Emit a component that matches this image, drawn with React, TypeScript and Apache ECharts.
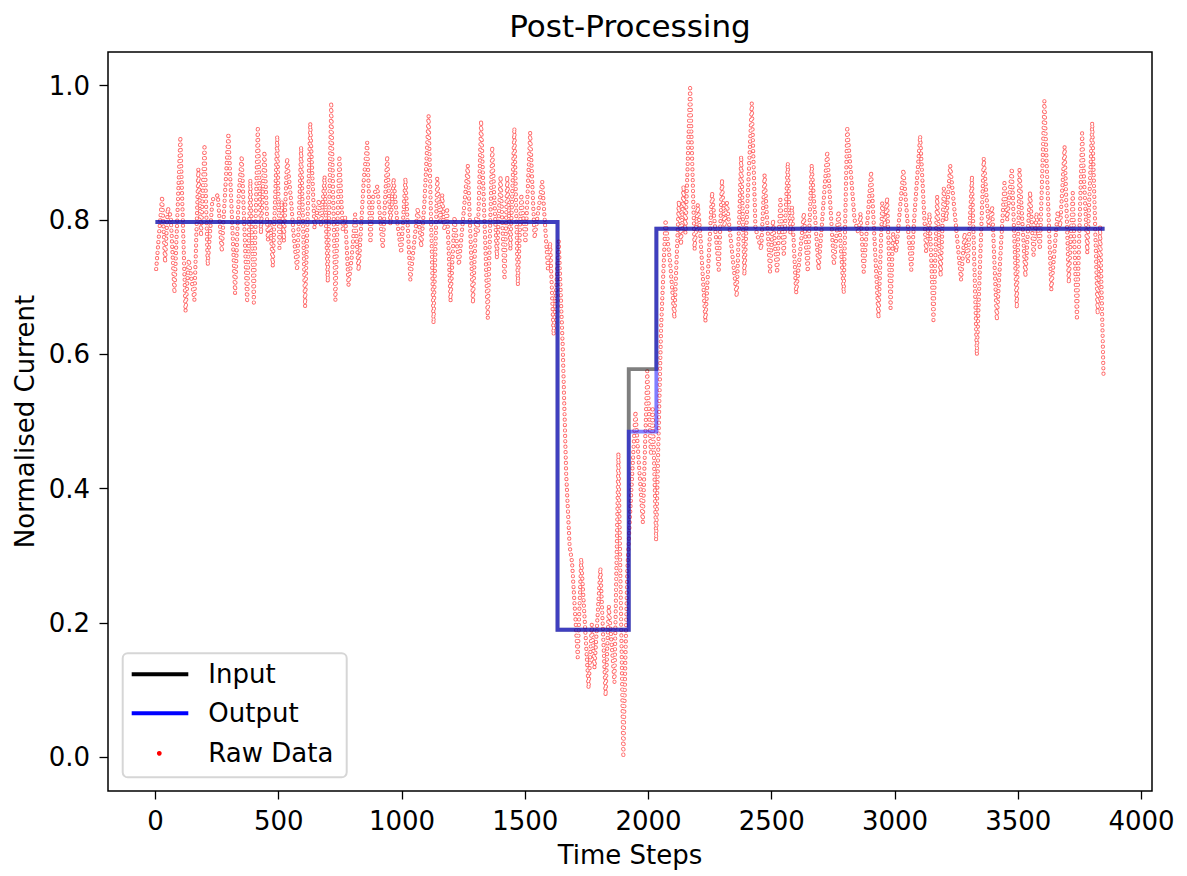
import React, { useEffect, useRef } from "react";
import * as echarts from "echarts";

const chartTitle = "Post-Processing";
const xAxisName = "Time Steps";
const yAxisName = "Normalised Current";
const legendNames = ["Input", "Output", "Raw Data"];

const xTicks = [0, 500, 1000, 1500, 2000, 2500, 3000, 3500, 4000];
const yTicks = [0, 0.2, 0.4, 0.6, 0.8, 1.0];

// step breakpoints (time steps) and levels
const stepT = [0, 1631, 1920, 2032, 3850];
const inputLevels = [0.797, 0.19, 0.578, 0.787];
const outputLevels = [0.797, 0.19, 0.485, 0.787];

// raw data turning points
const rawT = [
  3, 27, 39, 50, 62, 77, 101, 122, 135, 158, 174, 185, 199, 212, 231, 253, 269, 296, 323, 338,
  350, 372, 385, 399, 415, 428, 442, 456, 465, 476, 494, 503, 512, 521, 534, 550, 560, 575, 591, 607,
  628, 645, 663, 672, 686, 699, 713, 730, 746, 760, 770, 783, 795, 810, 824, 845, 859, 872, 882, 900,
  922, 940, 953, 966, 980, 997, 1014, 1034, 1064, 1078, 1091, 1108, 1128, 1143, 1155, 1163, 1172, 1183, 1197, 1213,
  1231, 1267, 1288, 1301, 1308, 1321, 1348, 1366, 1385, 1400, 1416, 1427, 1440, 1456, 1470, 1484, 1501, 1520, 1538, 1569,
  1592, 1601, 1615, 1636, 1652, 1666, 1680, 1690, 1713, 1727, 1757, 1770, 1781, 1805, 1826, 1839, 1862, 1878, 1898, 1914,
  1947, 1977, 1995, 2010, 2017, 2031, 2051, 2069, 2088, 2105, 2123, 2132, 2142, 2150, 2169, 2187, 2200, 2210, 2231, 2258,
  2285, 2298, 2308, 2318, 2358, 2376, 2389, 2419, 2434, 2457, 2471, 2493, 2505, 2522, 2535, 2549, 2565, 2575, 2582, 2599,
  2630, 2646, 2662, 2690, 2725, 2752, 2771, 2792, 2806, 2836, 2852, 2860, 2873, 2903, 2933, 2948, 2958, 2968, 2982, 2992,
  3005, 3034, 3066, 3079, 3102, 3126, 3140, 3156, 3171, 3185, 3198, 3208, 3224, 3268, 3282, 3296, 3312, 3332, 3360, 3380,
  3394, 3413, 3444, 3455, 3474, 3494, 3505, 3529, 3548, 3562, 3574, 3588, 3606, 3634, 3660, 3670, 3688, 3705, 3721, 3738,
  3759, 3780, 3800, 3822, 3832, 3846,
];
const rawV = [
  0.727, 0.835, 0.737, 0.818, 0.805, 0.691, 0.924, 0.664, 0.741, 0.681, 0.876, 0.776, 0.912, 0.733, 0.83, 0.837, 0.753, 0.929, 0.691, 0.839,
  0.895, 0.677, 0.86, 0.677, 0.939, 0.78, 0.902, 0.77, 0.8, 0.731, 0.925, 0.758, 0.828, 0.768, 0.892, 0.83, 0.78, 0.725, 0.909, 0.671,
  0.944, 0.788, 0.83, 0.79, 0.865, 0.708, 0.975, 0.681, 0.895, 0.783, 0.805, 0.703, 0.74, 0.808, 0.725, 0.86, 0.915, 0.766, 0.833, 0.85,
  0.758, 0.895, 0.793, 0.861, 0.8, 0.751, 0.862, 0.711, 0.818, 0.76, 0.825, 0.955, 0.646, 0.862, 0.795, 0.838, 0.785, 0.818, 0.679, 0.805,
  0.733, 0.881, 0.676, 0.805, 0.78, 0.948, 0.654, 0.909, 0.743, 0.865, 0.711, 0.865, 0.756, 0.937, 0.703, 0.838, 0.766, 0.93, 0.773, 0.857,
  0.728, 0.766, 0.629, 0.768, 0.613, 0.423, 0.315, 0.29, 0.149, 0.296, 0.103, 0.198, 0.133, 0.282, 0.092, 0.225, 0.112, 0.453, 0.0, 0.279,
  0.515, 0.35, 0.575, 0.45, 0.522, 0.323, 0.638, 0.8, 0.736, 0.654, 0.828, 0.763, 0.851, 0.78, 1.0, 0.756, 0.823, 0.78, 0.649, 0.841,
  0.726, 0.86, 0.79, 0.826, 0.686, 0.895, 0.718, 0.974, 0.788, 0.756, 0.867, 0.723, 0.8, 0.721, 0.83, 0.746, 0.885, 0.78, 0.82, 0.691,
  0.81, 0.723, 0.882, 0.726, 0.902, 0.733, 0.813, 0.691, 0.939, 0.8, 0.78, 0.81, 0.723, 0.872, 0.654, 0.825, 0.79, 0.833, 0.669, 0.78,
  0.753, 0.875, 0.726, 0.808, 0.925, 0.753, 0.81, 0.651, 0.835, 0.716, 0.847, 0.8, 0.881, 0.711, 0.78, 0.738, 0.865, 0.599, 0.892, 0.79,
  0.82, 0.651, 0.855, 0.8, 0.877, 0.669, 0.875, 0.716, 0.842, 0.748, 0.81, 0.756, 0.977, 0.696, 0.813, 0.79, 0.909, 0.706, 0.84, 0.651,
  0.929, 0.751, 0.945, 0.66, 0.79, 0.567,
];

const FONT = "'DejaVu Sans', 'Liberation Sans', sans-serif";

function stepData(levels: number[]) {
  const d: number[][] = levels.map((v, i) => [stepT[i], v]);
  d.push([stepT[stepT.length - 1], levels[levels.length - 1]]);
  return d;
}

export default function App() {
  const ref = useRef<HTMLDivElement>(null);

  useEffect(() => {
    if (!ref.current) return;
    const chart = echarts.init(ref.current, null, { renderer: "svg" });
    const rawData = rawT.map((t, i) => [t, rawV[i]]);
    const tMax = stepT[stepT.length - 1];
    const xPad = tMax * 0.05;

    const axisCommon = {
      nameLocation: "middle" as const,
      nameTextStyle: { fontSize: 26, color: "#000", fontFamily: FONT },
      axisLine: { show: false, onZero: false },
      splitLine: { show: false },
    };

    chart.setOption({
      animation: false,
      textStyle: { fontFamily: FONT },
      grid: {
        left: 108,
        top: 52,
        width: 1044,
        height: 739,
        show: true,
        borderColor: "#000",
        borderWidth: 1.5,
        backgroundColor: "transparent",
      },
      xAxis: {
        ...axisCommon,
        type: "value",
        min: -xPad,
        max: tMax + xPad,
        name: xAxisName,
        nameGap: 51,
        axisTick: {
          show: true,
          length: 8.5,
          customValues: xTicks,
          lineStyle: { color: "#000", width: 1.3 },
        },
        axisLabel: {
          customValues: xTicks,
          fontSize: 26,
          color: "#000",
          fontFamily: FONT,
          margin: 17,
          formatter: (v: number) => String(v),
        },
      },
      yAxis: {
        ...axisCommon,
        type: "value",
        min: -0.05,
        max: 1.05,
        name: yAxisName,
        nameGap: 70,
        axisTick: {
          show: true,
          length: 8.5,
          customValues: yTicks,
          lineStyle: { color: "#000", width: 1.3 },
        },
        axisLabel: {
          customValues: yTicks,
          fontSize: 26,
          color: "#000",
          fontFamily: FONT,
          margin: 18,
          formatter: (v: number) => v.toFixed(1),
        },
      },
      series: [
        {
          type: "line",
          name: legendNames[2],
          data: rawData,
          symbol: "none",
          silent: true,
          lineStyle: { color: "rgba(255,0,0,0.6)", width: 4.2, type: [0.01, 5.4], cap: "round" },
          z: 2,
        },
        {
          type: "line",
          name: "raw-inner",
          data: rawData,
          symbol: "none",
          silent: true,
          lineStyle: { color: "#ffffff", width: 2.4, type: [0.01, 5.4], cap: "round" },
          z: 2,
        },
        {
          type: "line",
          name: legendNames[0],
          data: stepData(inputLevels),
          step: "end",
          symbol: "none",
          lineStyle: { color: "rgba(0,0,0,0.5)", width: 3.9, join: "miter" },
          z: 3,
        },
        {
          type: "line",
          name: legendNames[1],
          data: stepData(outputLevels),
          step: "end",
          symbol: "none",
          lineStyle: { color: "rgba(0,0,255,0.5)", width: 3.9, join: "miter" },
          z: 4,
        },
      ],
      graphic: [
        {
          type: "text",
          x: 630,
          y: 26,
          style: { text: chartTitle, fontSize: 31, fontFamily: FONT, fill: "#000", align: "center", verticalAlign: "middle" },
        },
        {
          type: "rect",
          z: 100,
          shape: { x: 122.7, y: 653.3, width: 224, height: 124, r: 5 },
          style: { fill: "rgba(255,255,255,0.8)", stroke: "#d6d6d6", lineWidth: 2 },
        },
        {
          type: "line",
          z: 101,
          shape: { x1: 131.7, y1: 674.3, x2: 188.3, y2: 674.3 },
          style: { stroke: "#000", lineWidth: 3.9 },
        },
        {
          type: "line",
          z: 101,
          shape: { x1: 131.7, y1: 713.3, x2: 188.3, y2: 713.3 },
          style: { stroke: "#0000ff", lineWidth: 3.9 },
        },
        {
          type: "circle",
          z: 101,
          shape: { cx: 159.3, cy: 753.3, r: 2.4 },
          style: { fill: "#ff0000" },
        },
        ...legendNames.map((n, i) => ({
          type: "text",
          z: 101,
          x: 208.3,
          y: [674.3, 713.3, 753.3][i],
          style: { text: n, fontSize: 26, fontFamily: FONT, fill: "#000", align: "left", verticalAlign: "middle" },
        })),
      ],
    });
    return () => chart.dispose();
  }, []);

  return (
    <div
      ref={ref}
      style={{ position: "fixed", left: 0, top: 0, width: 1187, height: 876, background: "#fff" }}
    />
  );
}
